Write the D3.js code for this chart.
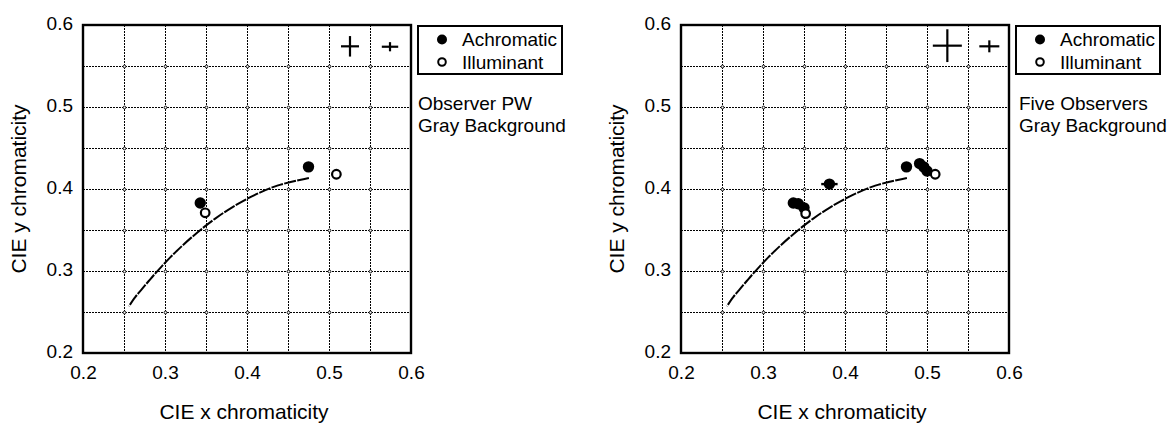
<!DOCTYPE html>
<html><head><meta charset="utf-8">
<script src="https://cdn.jsdelivr.net/npm/d3@7/dist/d3.min.js"></script>
<style>
html,body{margin:0;padding:0;background:#fff;}
svg{display:block;font-family:"Liberation Sans",Arial,Helvetica,sans-serif;}
</style></head>
<body>
<svg id="c" width="1167" height="424"></svg>
<script>
// ---- data ----
const tickValues = [0.2, 0.3, 0.4, 0.5, 0.6];
const tickLabels = ["0.2", "0.3", "0.4", "0.5", "0.6"];
const gridValues = [0.25, 0.3, 0.35, 0.4, 0.45, 0.5, 0.55];
const xTitle = "CIE x chromaticity";
const yTitle = "CIE y chromaticity";
const legendLabels = ["Achromatic", "Illuminant"];

// blackbody (Planckian) locus
const locusX = [0.4755, 0.4369, 0.4053, 0.3805, 0.3608, 0.3451, 0.3324, 0.3221, 0.3135, 0.3064, 0.2952, 0.2869, 0.2807, 0.2718, 0.2637, 0.2560];
const locusY = [0.4135, 0.4041, 0.3907, 0.3768, 0.3636, 0.3516, 0.3410, 0.3318, 0.3236, 0.3166, 0.3048, 0.2956, 0.2884, 0.2779, 0.2681, 0.2570];

// Panel 1: Observer PW
const pwTitle = ["Observer PW", "Gray Background"];
const pwAchroX = [0.343, 0.475];
const pwAchroY = [0.383, 0.427];
const pwIllumX = [0.349, 0.509];
const pwIllumY = [0.371, 0.418];
const pwCrossX = [0.5256, 0.5744];
const pwCrossY = [0.5740, 0.5735];
const pwCrossHW = [0.0110, 0.0100];
const pwCrossHH = [0.0125, 0.0056];

// Panel 2: Five Observers
const fiveTitle = ["Five Observers", "Gray Background"];
const fiveAchroX = [0.337, 0.343, 0.350, 0.381, 0.475, 0.491, 0.496, 0.500];
const fiveAchroY = [0.383, 0.382, 0.377, 0.406, 0.427, 0.431, 0.427, 0.422];
const fiveAchroErrX = [0, 0, 0, 0.0100, 0, 0, 0, 0];
const fiveAchroErrY = [0, 0, 0, 0.0055, 0, 0, 0, 0];
const fiveIllumX = [0.352, 0.510];
const fiveIllumY = [0.370, 0.418];
const fiveCrossX = [0.5248, 0.5760];
const fiveCrossY = [0.5748, 0.5740];
const fiveCrossHW = [0.0177, 0.0122];
const fiveCrossHH = [0.0200, 0.0073];

// ---- drawing ----
const svg = d3.select("#c");
const SIZE = 328, TOP = 25;

function panel(left, title, aX, aY, aEX, aEY, iX, iY, cX, cY, cHW, cHH) {
  const x = d3.scaleLinear().domain([0.2, 0.6]).range([left, left + SIZE]);
  const y = d3.scaleLinear().domain([0.2, 0.6]).range([TOP + SIZE, TOP]);
  const g = svg.append("g");

  // grid
  const grid = g.append("g").attr("stroke", "#000").attr("stroke-width", 1)
    .attr("stroke-dasharray", "2,1").attr("shape-rendering", "crispEdges").attr("fill", "none");
  gridValues.forEach(v => {
    const px = Math.round(x(v)) + 0.5, py = Math.round(y(v)) + 0.5;
    grid.append("line").attr("x1", px).attr("x2", px).attr("y1", TOP).attr("y2", TOP + SIZE);
    grid.append("line").attr("y1", py).attr("y2", py).attr("x1", left).attr("x2", left + SIZE);
  });
  const nodes = g.append("g").attr("fill", "#fff").attr("stroke", "#000").attr("stroke-width", 0.9);
  gridValues.forEach(vx => gridValues.forEach(vy => {
    nodes.append("circle").attr("cx", Math.round(x(vx)) + 0.5).attr("cy", Math.round(y(vy)) + 0.5).attr("r", 1.4);
  }));

  // axes (labels only)
  const xa = g.append("g").attr("transform", `translate(0,${TOP + SIZE + 12})`)
    .call(d3.axisBottom(x).tickValues(tickValues).tickFormat((d, i) => tickLabels[i]).tickSize(0).tickPadding(0));
  xa.select(".domain").remove();
  xa.selectAll("text").attr("font-size", 19).attr("font-family", "Liberation Sans, Arial, sans-serif").attr("fill", "#000").attr("dy", "0.71em");
  const ya = g.append("g").attr("transform", `translate(${left - 10},0)`)
    .call(d3.axisLeft(y).tickValues(tickValues).tickFormat((d, i) => tickLabels[i]).tickSize(0).tickPadding(0));
  ya.select(".domain").remove();
  ya.selectAll("text").attr("font-size", 19).attr("font-family", "Liberation Sans, Arial, sans-serif").attr("fill", "#000").attr("dy", "0.22em");

  g.append("text").attr("x", left + SIZE / 2 - 3).attr("y", 419).attr("text-anchor", "middle")
    .attr("font-size", 21).text(xTitle);
  g.append("text").attr("transform", `translate(${left - 57},${TOP + SIZE / 2}) rotate(-90)`)
    .attr("text-anchor", "middle").attr("font-size", 21).text(yTitle);

  // locus
  const line = d3.line().x(i => x(locusX[i])).y(i => y(locusY[i])).curve(d3.curveCatmullRom);
  g.append("path").attr("d", line(d3.range(locusX.length))).attr("fill", "none")
    .attr("stroke", "#000").attr("stroke-width", 2).attr("stroke-dasharray", "12,1.3");

  // error crosses
  const cr = g.append("g").attr("stroke", "#000").attr("stroke-width", 2.2);
  cX.forEach((v, i) => {
    cr.append("line").attr("x1", x(v - cHW[i])).attr("x2", x(v + cHW[i])).attr("y1", y(cY[i])).attr("y2", y(cY[i]));
    cr.append("line").attr("x1", x(v)).attr("x2", x(v)).attr("y1", y(cY[i] - cHH[i])).attr("y2", y(cY[i] + cHH[i]));
  });

  // achromatic points
  const ap = g.append("g");
  aX.forEach((v, i) => {
    if (aEX && aEX[i] > 0) {
      ap.append("line").attr("x1", x(v - aEX[i])).attr("x2", x(v + aEX[i])).attr("y1", y(aY[i])).attr("y2", y(aY[i])).attr("stroke", "#000").attr("stroke-width", 2.4);
      ap.append("line").attr("x1", x(v)).attr("x2", x(v)).attr("y1", y(aY[i] - aEY[i])).attr("y2", y(aY[i] + aEY[i])).attr("stroke", "#000").attr("stroke-width", 2.4);
    }
    ap.append("circle").attr("cx", x(v)).attr("cy", y(aY[i])).attr("r", 5.7).attr("fill", "#000");
  });
  // illuminant points
  iX.forEach((v, i) => {
    g.append("circle").attr("cx", x(v)).attr("cy", y(iY[i])).attr("r", 4.3)
      .attr("fill", "#fff").attr("stroke", "#000").attr("stroke-width", 2.2);
  });

  // frame
  g.append("rect").attr("x", left).attr("y", TOP).attr("width", SIZE).attr("height", SIZE)
    .attr("fill", "none").attr("stroke", "#000").attr("stroke-width", 2.4);

  // legend
  const lx = left + SIZE + 7;
  const lg = g.append("g");
  lg.append("rect").attr("x", lx).attr("y", 26).attr("width", 144).attr("height", 48)
    .attr("fill", "#fff").attr("stroke", "#000").attr("stroke-width", 2);
  lg.append("circle").attr("cx", lx + 24).attr("cy", 39.5).attr("r", 5).attr("fill", "#000");
  lg.append("circle").attr("cx", lx + 24).attr("cy", 62).attr("r", 3.8).attr("fill", "#fff").attr("stroke", "#000").attr("stroke-width", 2);
  lg.append("text").attr("x", lx + 44).attr("y", 46).attr("font-size", 19).text(legendLabels[0]);
  lg.append("text").attr("x", lx + 44).attr("y", 68.5).attr("font-size", 19).text(legendLabels[1]);

  title.forEach((t, i) => {
    g.append("text").attr("x", lx + (left > 500 ? 3 : 0)).attr("y", 110 + i * 22).attr("font-size", 19).text(t);
  });
}

panel(83, pwTitle, pwAchroX, pwAchroY, null, null, pwIllumX, pwIllumY, pwCrossX, pwCrossY, pwCrossHW, pwCrossHH);
panel(681, fiveTitle, fiveAchroX, fiveAchroY, fiveAchroErrX, fiveAchroErrY, fiveIllumX, fiveIllumY, fiveCrossX, fiveCrossY, fiveCrossHW, fiveCrossHH);
</script>
</body></html>
